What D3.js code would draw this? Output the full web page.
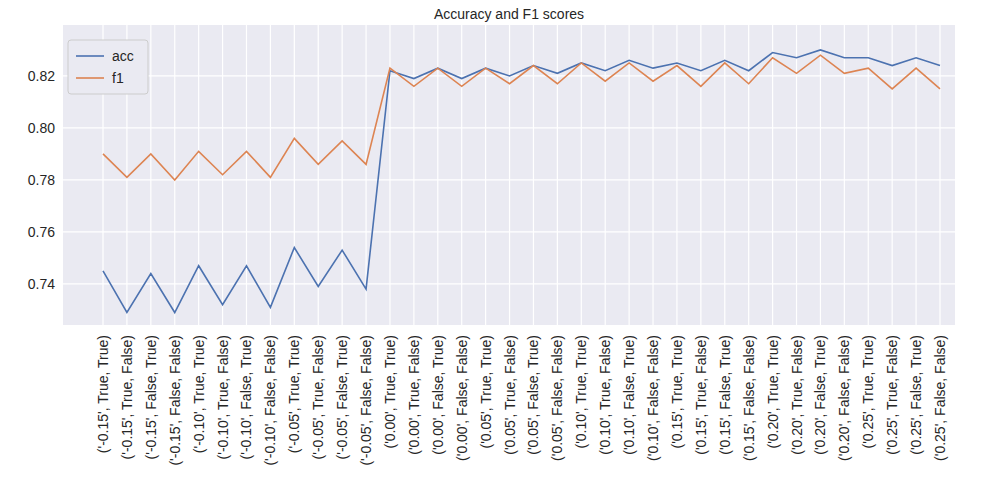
<!DOCTYPE html>
<html><head><meta charset="utf-8">
<script src="https://cdn.jsdelivr.net/npm/d3@7"></script>
<style>body{margin:0;background:#fff}svg{font-family:"Liberation Sans",Arial,sans-serif}</style>
</head><body><div id="chart"></div>
<script>
const width = 1000, height = 500;
const thresholds = ["-0.15","-0.10","-0.05","0.00","0.05","0.10","0.15","0.20","0.25"];
const flagPairs = [["True","True"],["True","False"],["False","True"],["False","False"]];
const categories = [];
thresholds.forEach(t => flagPairs.forEach(p => categories.push("('" + t + "', " + p[0] + ", " + p[1] + ")")));

const acc = [0.745,0.729,0.744,0.729,0.747,0.732,0.747,0.731,0.754,0.739,0.753,0.738,
  0.822,0.819,0.823,0.819,0.823,0.820,0.824,0.821,0.825,0.822,0.826,0.823,
  0.825,0.822,0.826,0.822,0.829,0.827,0.830,0.827,0.827,0.824,0.827,0.824];
const f1 = [0.790,0.781,0.790,0.780,0.791,0.782,0.791,0.781,0.796,0.786,0.795,0.786,
  0.823,0.816,0.823,0.816,0.823,0.817,0.824,0.817,0.825,0.818,0.825,0.818,
  0.824,0.816,0.825,0.817,0.827,0.821,0.828,0.821,0.823,0.815,0.823,0.815];
const yTicks = [0.74,0.76,0.78,0.80,0.82];

const m = {left: 63, right: 45, top: 25, bottom: 175};
const svg = d3.select("#chart").append("svg").attr("width", width).attr("height", height);

const x = d3.scalePoint().domain(categories).range([103, 940]);
const y = d3.scaleLinear().domain([0.7242, 0.8396]).range([height - m.bottom, m.top]);

svg.append("rect").attr("x", m.left).attr("y", m.top)
  .attr("width", width - m.left - m.right).attr("height", height - m.top - m.bottom)
  .attr("fill", "#eaeaf2");

// grid
svg.append("g").selectAll("line").data(yTicks).join("line")
  .attr("x1", m.left).attr("x2", width - m.right)
  .attr("y1", d => y(d)).attr("y2", d => y(d))
  .attr("stroke", "#fff").attr("stroke-width", 1.2);
svg.append("g").selectAll("line").data(categories).join("line")
  .attr("x1", d => x(d)).attr("x2", d => x(d))
  .attr("y1", m.top).attr("y2", height - m.bottom)
  .attr("stroke", "#fff").attr("stroke-width", 1.2);

// y labels
svg.append("g").selectAll("text").data(yTicks).join("text")
  .attr("x", m.left - 8).attr("y", d => y(d)).attr("dy", "0.35em")
  .attr("text-anchor", "end").attr("font-size", 14).attr("fill", "#262626")
  .text(d => d.toFixed(2));

// x labels
svg.append("g").selectAll("text").data(categories).join("text")
  .attr("transform", d => "translate(" + (x(d) + 5) + "," + (height - m.bottom + 10) + ") rotate(-90)")
  .attr("text-anchor", "end").attr("font-size", 14).attr("fill", "#262626")
  .text(d => d);

const line = d3.line().x((d, i) => x(categories[i])).y(d => y(d));
svg.append("path").datum(acc).attr("d", line).attr("fill", "none").attr("stroke", "#4c72b0").attr("stroke-width", 1.6);
svg.append("path").datum(f1).attr("d", line).attr("fill", "none").attr("stroke", "#dd8452").attr("stroke-width", 1.6);

svg.append("text").attr("x", (m.left + width - m.right) / 2).attr("y", 19)
  .attr("text-anchor", "middle").attr("font-size", 14).attr("fill", "#262626")
  .text("Accuracy and F1 scores");

// legend
const lg = svg.append("g").attr("transform", "translate(68,40)");
lg.append("rect").attr("width", 80).attr("height", 54).attr("rx", 3)
  .attr("fill", "#eaeaf2").attr("stroke", "#ccc");
[["acc", "#4c72b0"], ["f1", "#dd8452"]].forEach((s, i) => {
  lg.append("line").attr("x1", 8).attr("x2", 36).attr("y1", 16 + i * 22).attr("y2", 16 + i * 22)
    .attr("stroke", s[1]).attr("stroke-width", 1.6);
  lg.append("text").attr("x", 44).attr("y", 16 + i * 22).attr("dy", "0.35em")
    .attr("font-size", 14).attr("fill", "#262626").text(s[0]);
});
</script></body></html>
